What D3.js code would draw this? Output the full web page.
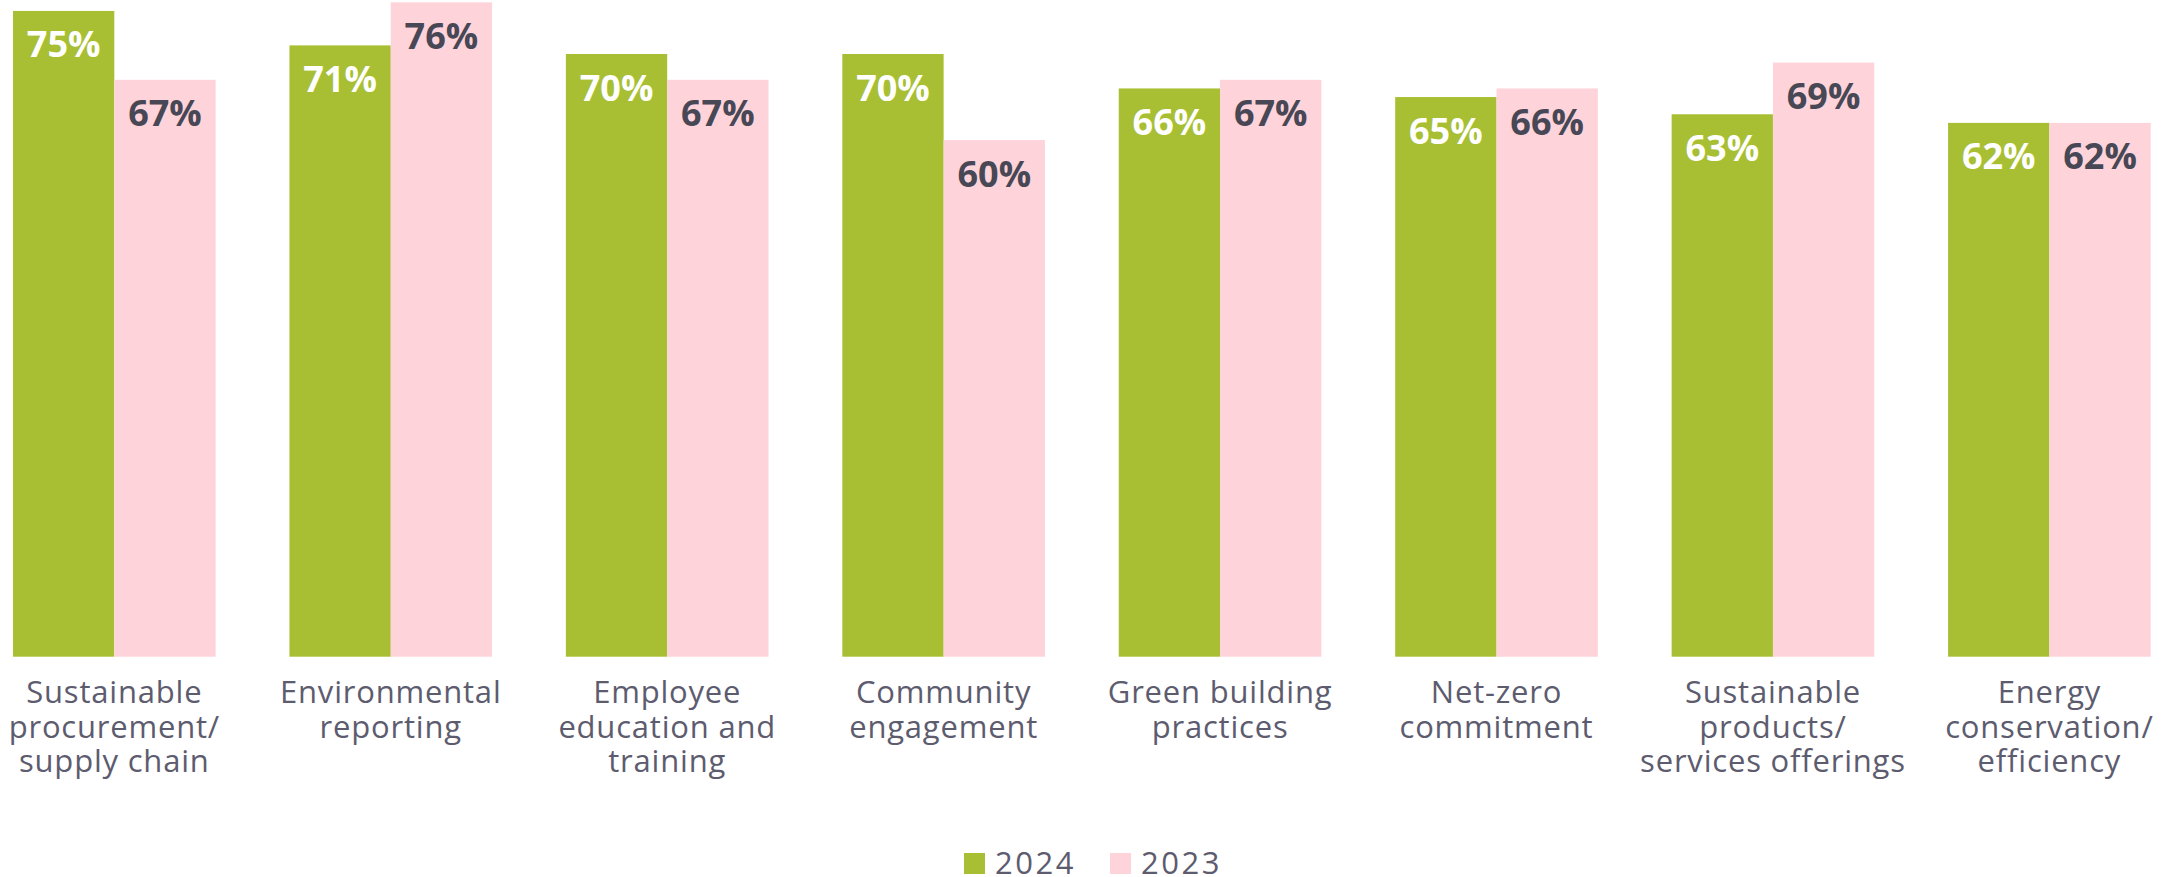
<!DOCTYPE html>
<html>
<head>
<meta charset="utf-8">
<script src="https://cdn.jsdelivr.net/npm/d3@7"></script>
<style>
  html, body { margin: 0; padding: 0; background: #ffffff; }
  svg { display: block; }
</style>
</head>
<body>
<svg id="chart" width="2174" height="877"></svg>
<script>
// Sustainability initiatives, share of respondents by year
const categories = [
  ["Sustainable", "procurement/", "supply chain"],
  ["Environmental", "reporting"],
  ["Employee", "education and", "training"],
  ["Community", "engagement"],
  ["Green building", "practices"],
  ["Net-zero", "commitment"],
  ["Sustainable", "products/", "services offerings"],
  ["Energy", "conservation/", "efficiency"]
];
const values2024 = [75, 71, 70, 70, 66, 65, 63, 62];
const values2023 = [67, 76, 67, 60, 67, 66, 69, 62];
const seriesNames = ["2024", "2023"];

const colors = { "2024": "#a9bf33", "2023": "#fed3d9" };
const labelColors = { "2024": "#ffffff", "2023": "#474756" };
const textColor = "#5d5c6f";
const fontFamily = "'Open Sans', 'Lato', sans-serif";

const svg = d3.select("#chart");

const baseline = 656.7;
const pxPerPct = 8.61;

const x0 = d3.scaleBand()
  .domain(d3.range(categories.length))
  .range([13, 2150.7])
  .paddingInner(0.267)
  .paddingOuter(0);

const x1 = d3.scaleBand()
  .domain(seriesNames)
  .range([0, x0.bandwidth()])
  .padding(0);

const y = d3.scaleLinear()
  .domain([0, 76])
  .range([baseline, baseline - 76 * pxPerPct]);

const rows = categories.map((c, i) => ({
  i,
  lines: c,
  vals: [
    { key: "2024", value: values2024[i] },
    { key: "2023", value: values2023[i] }
  ]
}));

const groups = svg.append("g").selectAll("g.group")
  .data(rows)
  .join("g")
  .attr("class", "group")
  .attr("transform", d => `translate(${x0(d.i)},0)`);

groups.selectAll("rect")
  .data(d => d.vals)
  .join("rect")
  .attr("x", d => x1(d.key))
  .attr("y", d => y(d.value))
  .attr("width", x1.bandwidth())
  .attr("height", d => y(0) - y(d.value))
  .attr("fill", d => colors[d.key]);

groups.selectAll("text.value")
  .data(d => d.vals)
  .join("text")
  .attr("class", "value")
  .attr("x", d => x1(d.key) + x1.bandwidth() / 2)
  .attr("y", d => y(d.value) + 46.5)
  .attr("text-anchor", "middle")
  .attr("font-family", fontFamily)
  .attr("font-weight", 700)
  .attr("font-size", 36)
  .attr("fill", d => labelColors[d.key])
  .text(d => d.value + "%");

// category labels below the baseline
groups.append("text")
  .attr("class", "cat")
  .attr("text-anchor", "middle")
  .attr("font-family", fontFamily)
  .attr("font-size", 31)
  .attr("letter-spacing", 0.8)
  .attr("fill", textColor)
  .selectAll("tspan")
  .data(d => d.lines)
  .join("tspan")
  .attr("x", x0.bandwidth() / 2)
  .attr("y", (d, j) => 703 + j * 34.5)
  .text(d => d);

// legend
const legend = svg.append("g");
const legendItems = [
  { key: "2024", x: 964 },
  { key: "2023", x: 1110 }
];
legend.selectAll("rect")
  .data(legendItems)
  .join("rect")
  .attr("x", d => d.x)
  .attr("y", 853)
  .attr("width", 21)
  .attr("height", 21)
  .attr("fill", d => colors[d.key]);
legend.selectAll("text")
  .data(legendItems)
  .join("text")
  .attr("x", d => d.x + 31)
  .attr("y", 874)
  .attr("font-family", fontFamily)
  .attr("font-size", 31)
  .attr("letter-spacing", 2.5)
  .attr("fill", textColor)
  .text(d => d.key);
</script>
</body>
</html>
